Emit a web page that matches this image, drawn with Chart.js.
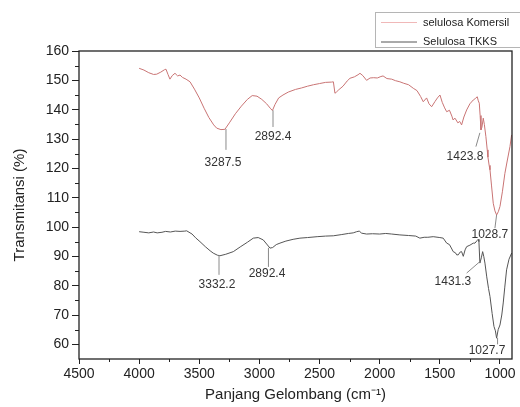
<!DOCTYPE html>
<html>
<head>
<meta charset="utf-8">
<script src="https://cdn.jsdelivr.net/npm/chart.js@4.4.1/dist/chart.umd.min.js"></script>
<style>
  html, body { margin: 0; padding: 0; background: #fff; }
  #wrap { width: 520px; height: 407px; position: relative; }
</style>
</head>
<body>
<div id="wrap"><canvas id="ftir" width="520" height="407"></canvas></div>
<script>
// selulosa Komersil (cm-1, %T)
const waveKomersil = [4000, 3960, 3920, 3880, 3854, 3820, 3790, 3777, 3760, 3744, 3725, 3702, 3680, 3660, 3640, 3610, 3577,
  3540, 3500, 3460, 3420, 3380, 3355, 3320, 3287, 3250, 3200, 3150, 3100, 3060, 3020, 2980, 2940, 2910, 2892, 2870, 2840,
  2804, 2760, 2700, 2650, 2600, 2550, 2500, 2450, 2400, 2385, 2372, 2360, 2340, 2305, 2270, 2247, 2210, 2180, 2164, 2140,
  2109, 2080, 2050, 2020, 1990, 1972, 1940, 1900, 1870, 1832, 1800, 1760, 1721, 1690, 1660, 1638, 1610, 1590, 1568, 1540,
  1520, 1499, 1480, 1460, 1443, 1420, 1400, 1390, 1374, 1350, 1335, 1319, 1300, 1277, 1250, 1222, 1205, 1189, 1180, 1172,
  1165, 1158, 1150, 1139, 1130, 1117, 1106, 1100, 1090, 1083, 1070, 1056, 1042, 1028, 1014, 1000, 980, 959, 940, 917, 903];
const transKomersil = [154.1, 153.5, 152.6, 152.0, 152.1, 152.8, 153.6, 153.8, 152.0, 150.4, 151.6, 152.4, 151.5, 151.8, 151.0, 150.4, 149.5,
  147.0, 144.0, 140.5, 137.3, 134.8, 133.7, 133.2, 133.3, 135.5, 138.6, 141.2, 143.5, 144.8, 144.6, 143.5, 142.0, 140.5, 139.7, 141.8, 144.0,
  145.0, 146.0, 146.9, 147.4, 148.0, 148.5, 148.9, 149.3, 149.4, 149.5, 145.6, 146.0, 146.8, 148.0, 149.8, 150.7, 151.2, 151.9, 152.4, 151.6,
  150.0, 150.8, 150.9, 150.8, 151.3, 151.5, 150.6, 150.4, 149.9, 149.5, 149.0, 148.5, 147.3, 146.5, 144.5, 142.7, 144.0, 142.0, 141.0, 142.8,
  144.0, 145.0, 142.5, 140.6, 139.3, 139.8, 137.8, 136.5, 137.1, 135.5, 136.0, 134.8, 137.5, 139.9, 142.0, 143.3, 143.8, 144.4, 143.0, 142.2,
  138.0, 133.1, 134.0, 137.1, 135.0, 130.8, 126.3, 123.8, 121.0, 119.5, 114.0, 108.1, 105.5, 104.1, 105.2, 107.0, 112.0, 118.3, 122.5, 127.4, 131.4];

// Selulosa TKKS
const waveTKKS = [4000, 3960, 3920, 3880, 3850, 3810, 3780, 3740, 3700, 3660, 3620, 3605, 3560, 3530, 3494, 3450, 3410, 3384,
  3350, 3328, 3280, 3217, 3160, 3100, 3051, 3010, 2968, 2940, 2912, 2890, 2860, 2829, 2780, 2720, 2663, 2600, 2520, 2450,
  2386, 2320, 2260, 2220, 2192, 2170, 2150, 2109, 2060, 2000, 1950, 1900, 1832, 1760, 1700, 1666, 1630, 1600, 1555, 1500,
  1472, 1443, 1420, 1400, 1389, 1370, 1360, 1347, 1330, 1319, 1305, 1290, 1277, 1250, 1222, 1208, 1190, 1181, 1175, 1167,
  1155, 1144, 1135, 1125, 1110, 1095, 1083, 1065, 1050, 1038, 1028, 1015, 1000, 985, 973, 960, 945, 925, 903];
const transTKKS = [98.4, 98.2, 98.0, 98.3, 98.0, 98.2, 98.5, 98.3, 98.6, 98.5, 98.6, 98.7, 97.6, 96.3, 95.0, 93.3, 91.9, 91.1,
  90.4, 90.2, 90.7, 91.6, 93.2, 94.8, 96.2, 96.4, 95.6, 94.2, 92.8, 93.0, 94.0, 94.5, 95.2, 95.8, 96.2, 96.4, 96.7, 96.9,
  97.0, 97.4, 97.8, 98.0, 98.4, 98.6, 97.9, 97.6, 97.7, 97.6, 97.8, 97.6, 97.3, 97.1, 96.9, 96.2, 96.5, 96.5, 96.7, 96.4,
  96.2, 94.5, 94.0, 92.5, 91.6, 91.2, 90.5, 90.5, 91.5, 91.6, 90.0, 92.2, 93.3, 93.8, 94.5, 94.5, 95.4, 95.8, 95.0, 87.7,
  89.5, 91.6, 90.0, 87.7, 83.0, 79.0, 76.3, 70.5, 66.1, 64.6, 62.1, 65.0, 66.6, 70.0, 74.1, 79.5, 85.4, 89.0, 91.1];

const xTicks = [4500, 4000, 3500, 3000, 2500, 2000, 1500, 1000];
const xMinor = [4250, 3750, 3250, 2750, 2250, 1750, 1250];
const yTicks = [60, 70, 80, 90, 100, 110, 120, 130, 140, 150, 160];
const yMinor = [65, 75, 85, 95, 105, 115, 125, 135, 145, 155];

// peak labels: text, label position, leader line (all in data units)
const peaks = [
  { text: '3287.5', at: [3303, 121.9], from: [3278, 133.4], to: [3278, 126.3] },
  { text: '2892.4', at: [2887, 130.8], from: [2887, 139.8], to: [2887, 134.1] },
  { text: '1423.8', at: [1291, 123.8], from: [1200, 127.4], to: [1167, 132.1] },
  { text: '1028.7', at: [1084, 97.5], from: [1028, 104.1], to: [1042, 99.6] },
  { text: '3332.2', at: [3353, 80.3], from: [3336, 90.4], to: [3336, 83.7] },
  { text: '2892.4', at: [2937, 84.2], from: [2925, 92.9], to: [2925, 86.4] },
  { text: '1431.3', at: [1391, 81.4], from: [1277, 84.3], to: [1167, 88.2] },
  { text: '1027.7', at: [1108, 57.8], from: [1020, 62.2], to: [1020, 60.0] }
];

const seriesNames = ['selulosa Komersil', 'Selulosa TKKS'];
const seriesColors = ['#c97474', '#555555'];

const FONT = "'Liberation Sans', Arial, sans-serif";
const INK = '#222';

function toPoints(xs, ys) {
  return xs.map((x, i) => ({ x: x, y: ys[i] }));
}

const extras = {
  id: 'extras',
  afterDraw(chart) {
    const { ctx, chartArea: a, scales: { x, y } } = chart;
    ctx.save();

    // frame
    ctx.strokeStyle = INK;
    ctx.lineWidth = 1.3;
    ctx.strokeRect(a.left, a.top, a.right - a.left, a.bottom - a.top);

    // minor ticks
    ctx.lineWidth = 1;
    ctx.beginPath();
    xMinor.forEach(v => {
      const px = Math.round(x.getPixelForValue(v)) + 0.5;
      ctx.moveTo(px, a.bottom);
      ctx.lineTo(px, a.bottom + 3);
    });
    yMinor.forEach(v => {
      const py = Math.round(y.getPixelForValue(v)) + 0.5;
      ctx.moveTo(a.left, py);
      ctx.lineTo(a.left - 4, py);
    });
    ctx.stroke();

    // peak labels
    ctx.strokeStyle = '#8a8a8a';
    ctx.lineWidth = 1;
    ctx.fillStyle = '#333';
    ctx.font = '12px ' + FONT;
    ctx.textAlign = 'center';
    ctx.textBaseline = 'middle';
    peaks.forEach(p => {
      ctx.beginPath();
      ctx.moveTo(x.getPixelForValue(p.from[0]), y.getPixelForValue(p.from[1]));
      ctx.lineTo(x.getPixelForValue(p.to[0]), y.getPixelForValue(p.to[1]));
      ctx.stroke();
      ctx.fillText(p.text, x.getPixelForValue(p.at[0]), y.getPixelForValue(p.at[1]));
    });

    // legend box
    ctx.strokeStyle = '#b5b5b5';
    ctx.lineWidth = 1;
    ctx.strokeRect(375.5, 12.5, 160, 35);
    ctx.font = '11px ' + FONT;
    ctx.textAlign = 'left';
    ctx.fillStyle = '#222';
    seriesNames.forEach((name, i) => {
      const ly = 22.5 + i * 19.5;
      ctx.strokeStyle = i === 0 ? '#f0b8b8' : '#555';
      ctx.beginPath();
      ctx.moveTo(381, ly);
      ctx.lineTo(417, ly);
      ctx.stroke();
      ctx.fillText(name, 423, ly);
    });

    ctx.restore();
  }
};

new Chart(document.getElementById('ftir'), {
  type: 'line',
  data: {
    datasets: [
      { label: seriesNames[0], data: toPoints(waveKomersil, transKomersil), borderColor: seriesColors[0], borderWidth: 1, pointRadius: 0, tension: 0 },
      { label: seriesNames[1], data: toPoints(waveTKKS, transTKKS), borderColor: seriesColors[1], borderWidth: 1, pointRadius: 0, tension: 0 }
    ]
  },
  options: {
    responsive: false,
    animation: false,
    devicePixelRatio: 1,
    layout: { padding: { top: 51, right: 8, left: 0, bottom: 0 } },
    plugins: { legend: { display: false }, tooltip: { enabled: false } },
    scales: {
      x: {
        type: 'linear',
        reverse: true,
        min: 900,
        max: 4500,
        afterBuildTicks: s => { s.ticks = xTicks.map(v => ({ value: v })); },
        afterFit: s => { s.height = 48; },
        grid: { drawOnChartArea: false, color: INK, tickLength: 5 },
        border: { display: false },
        ticks: { color: INK, font: { family: FONT, size: 14 }, padding: 2, maxRotation: 0, autoSkip: false, callback: v => String(v) },
        title: { display: true, text: 'Panjang Gelombang (cm\u207B\u00B9)', color: INK, font: { family: FONT, size: 15 }, padding: { top: 0, bottom: 3 } }
      },
      y: {
        min: 55,
        max: 160,
        afterBuildTicks: s => { s.ticks = yTicks.map(v => ({ value: v })); },
        afterFit: s => { s.width = 79; },
        grid: { drawOnChartArea: false, color: INK, tickLength: 7 },
        border: { display: false },
        ticks: { color: INK, font: { family: FONT, size: 14 }, padding: 3, callback: v => String(v) },
        title: { display: true, text: 'Transmitansi (%)', color: INK, font: { family: FONT, size: 15 }, padding: { top: 11, bottom: 0 } }
      }
    }
  },
  plugins: [extras]
});
</script>
</body>
</html>
